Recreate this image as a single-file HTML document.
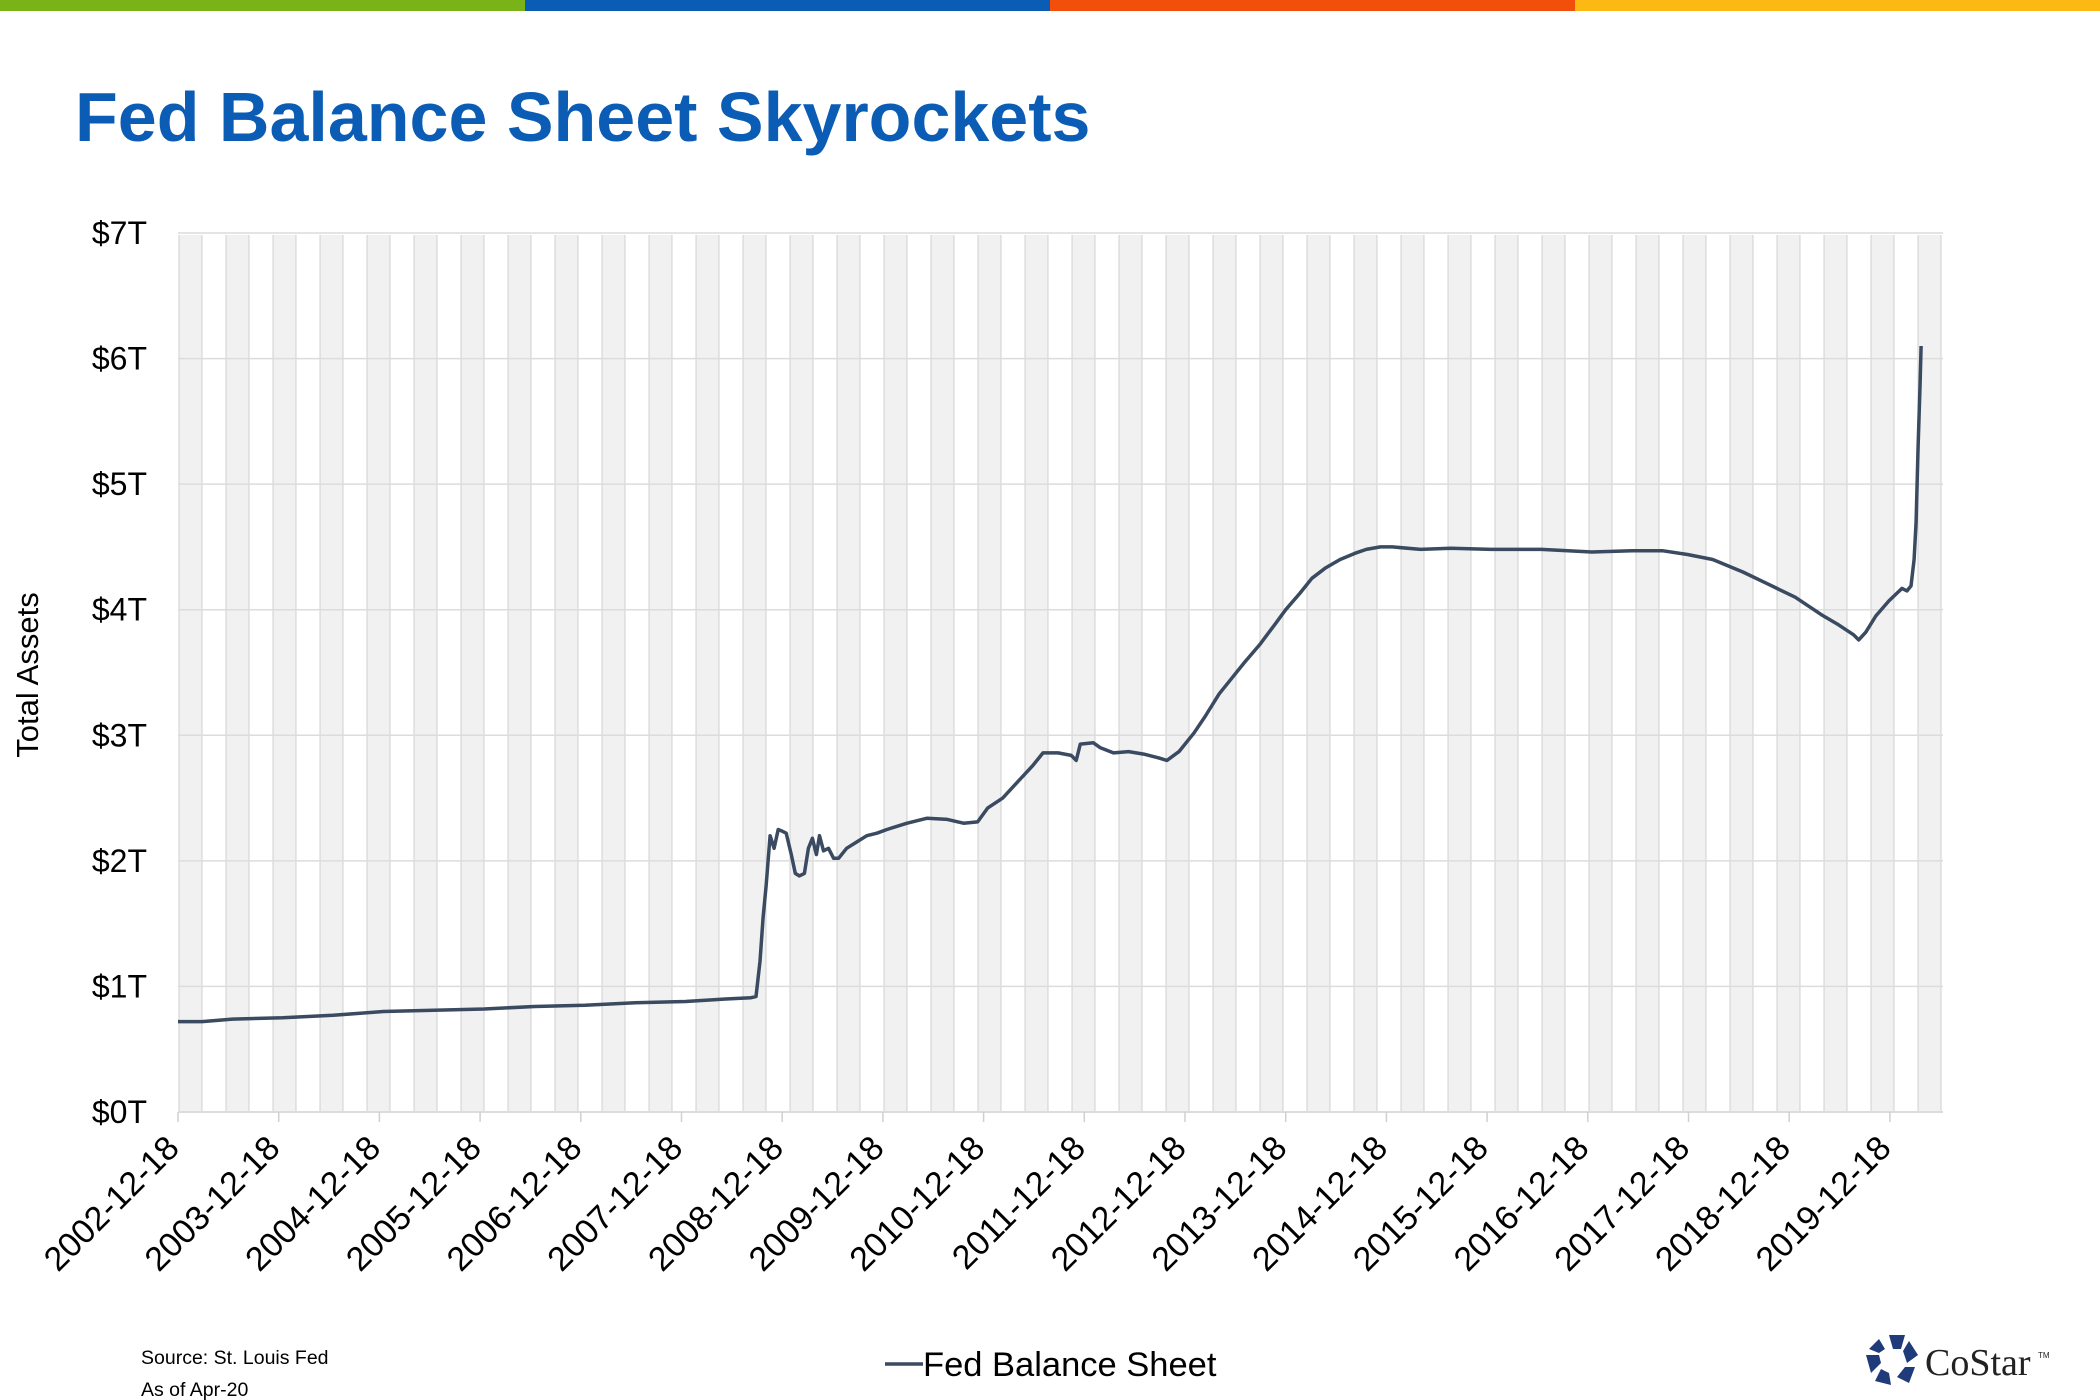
<!DOCTYPE html>
<html><head><meta charset="utf-8"><style>
body{margin:0;background:#fff;}
svg{display:block;font-family:"Liberation Sans",Arial,sans-serif;}
</style></head><body>
<svg id="chart" width="2100" height="1400" viewBox="0 0 2100 1400" xmlns="http://www.w3.org/2000/svg">
<g>
<rect x="0" y="0" width="525" height="11" fill="#7ab317"/>
<rect x="525" y="0" width="525" height="11" fill="#0b5cb5"/>
<rect x="1050" y="0" width="525" height="11" fill="#f2500a"/>
<rect x="1575" y="0" width="525" height="11" fill="#fdb913"/>
</g>
<text x="75" y="141" font-size="70" font-weight="bold" fill="#0b5cb5">Fed Balance Sheet Skyrockets</text>
<g id="bands"></g>
<g id="grid"></g>
<g id="yticks"></g>
<g id="xticks"></g>
<text transform="translate(38,675) rotate(-90)" text-anchor="middle" font-size="31" fill="#000">Total Assets</text>
<path id="series" fill="none" stroke="#3a4a60" stroke-width="3.5" stroke-linejoin="round"/>
<text x="141" y="1364" font-size="19.5" fill="#000">Source: St. Louis Fed</text>
<text x="141" y="1396" font-size="19.5" fill="#000">As of Apr-20</text>
<g>
<line x1="885" y1="1364" x2="923" y2="1364" stroke="#3a4a60" stroke-width="3.5"/>
<text x="923" y="1376" font-size="34.5" fill="#000">Fed Balance Sheet</text>
</g>
<g>
<g fill="#1f3b7a" transform="translate(1893,1361)">
<polygon points="-4,-26 12,-26 8,-12 0,-12"/>
<polygon points="16,-20 25,-6 14,2 10,-10"/>
<polygon points="22,6 16,22 4,16 12,6"/>
<polygon points="-2,24 -18,20 -12,8 -4,12"/>
<polygon points="-22,12 -27,-6 -14,-6 -12,2"/>
<polygon points="-24,-12 -14,-22 -8,-12 -14,-8"/>
</g>
<text x="1925" y="1375" font-size="38" font-family="Liberation Serif,serif" fill="#222">CoStar</text>
<text x="2038" y="1358" font-size="8" fill="#222">TM</text>
</g>
</svg>
<script>
const yTicks=[0,1,2,3,4,5,6,7];
const yTickLabels=["$0T","$1T","$2T","$3T","$4T","$5T","$6T","$7T"];
const xTickYears=[2002.96,2003.96,2004.96,2005.96,2006.96,2007.96,2008.96,2009.96,2010.96,2011.96,2012.96,2013.96,2014.96,2015.96,2016.96,2017.96,2018.96,2019.96];
const xTickLabels=["2002-12-18","2003-12-18","2004-12-18","2005-12-18","2006-12-18","2007-12-18","2008-12-18","2009-12-18","2010-12-18","2011-12-18","2012-12-18","2013-12-18","2014-12-18","2015-12-18","2016-12-18","2017-12-18","2018-12-18","2019-12-18"];
const dates=[2002.96,2003.2,2003.5,2004.0,2004.5,2005.0,2005.5,2006.0,2006.5,2007.0,2007.5,2008.0,2008.4,2008.65,2008.7,2008.74,2008.77,2008.8,2008.84,2008.88,2008.92,2008.95,2009.0,2009.05,2009.09,2009.13,2009.18,2009.22,2009.26,2009.3,2009.33,2009.37,2009.42,2009.47,2009.52,2009.6,2009.7,2009.8,2009.9,2010.0,2010.2,2010.4,2010.6,2010.76,2010.9,2011.0,2011.15,2011.3,2011.45,2011.55,2011.7,2011.83,2011.88,2011.92,2012.05,2012.12,2012.25,2012.4,2012.55,2012.7,2012.78,2012.9,2013.05,2013.16,2013.3,2013.42,2013.55,2013.7,2013.85,2013.96,2014.1,2014.22,2014.35,2014.5,2014.65,2014.76,2014.9,2015.02,2015.3,2015.6,2016.0,2016.5,2017.0,2017.4,2017.7,2017.95,2018.2,2018.5,2018.76,2019.02,2019.28,2019.45,2019.6,2019.65,2019.72,2019.82,2019.95,2020.08,2020.13,2020.17,2020.2,2020.22,2020.24,2020.26,2020.27];
const values=[0.72,0.72,0.74,0.75,0.77,0.80,0.81,0.82,0.84,0.85,0.87,0.88,0.90,0.91,0.92,1.2,1.55,1.8,2.2,2.1,2.25,2.24,2.22,2.05,1.9,1.88,1.9,2.1,2.18,2.05,2.2,2.08,2.1,2.02,2.02,2.1,2.15,2.2,2.22,2.25,2.3,2.34,2.33,2.3,2.31,2.42,2.5,2.63,2.76,2.86,2.86,2.84,2.8,2.93,2.94,2.9,2.86,2.87,2.85,2.82,2.8,2.87,3.02,3.15,3.33,3.45,3.58,3.72,3.88,4.0,4.13,4.25,4.33,4.4,4.45,4.48,4.5,4.5,4.48,4.49,4.48,4.48,4.46,4.47,4.47,4.44,4.4,4.3,4.2,4.1,3.96,3.88,3.8,3.76,3.82,3.95,4.07,4.17,4.15,4.19,4.4,4.7,5.3,5.8,6.1];
const L=178,R=1943,T=233,B=1112,Y0=2002.96,PX=100.7;
const xS=y=>L+(y-Y0)*PX;
const yS=v=>B-v*(B-T)/7;
const NS="http://www.w3.org/2000/svg";
function mk(tag,attrs,parent){const e=document.createElementNS(NS,tag);for(const k in attrs)e.setAttribute(k,attrs[k]);parent.appendChild(e);return e;}
const bands=document.getElementById('bands');
for(let i=0;i<38;i++){const x=179+i*47;
const r=mk('rect',{x:x,y:T+2,width:23,height:B-T-2,fill:'#f1f1f1'},bands);


mk('line',{x1:x,x2:x,y1:T+2,y2:B,stroke:'#d0d0d0','stroke-width':1},bands);
mk('line',{x1:x+23,x2:x+23,y1:T+2,y2:B,stroke:'#d0d0d0','stroke-width':1},bands);}
const grid=document.getElementById('grid'),yt=document.getElementById('yticks');
yTicks.forEach((v,i)=>{const y=yS(v);
const g=mk('line',{x1:L,x2:R,y1:y,y2:y,stroke:'#dcdcdc','stroke-width':v===0?2:1.5},grid);


const t=mk('text',{x:147,y:y+11,'text-anchor':'end','font-size':32,fill:'#000'},yt);
t.textContent=yTickLabels[i];

});
const xt=document.getElementById('xticks');
xTickYears.forEach((yr,i)=>{const x=xS(yr);
mk('line',{x1:x,x2:x,y1:B,y2:B+10,stroke:'#d0d0d0','stroke-width':1.5},xt);
const t=mk('text',{transform:`translate(${x+3},${B+38}) rotate(-45)`,'text-anchor':'end','font-size':34,fill:'#000'},xt);
t.textContent=xTickLabels[i];

});
document.getElementById('series').setAttribute('d',dates.map((d,i)=>(i?'L':'M')+xS(d).toFixed(1)+','+yS(values[i]).toFixed(1)).join(''));
</script>
</body></html>
